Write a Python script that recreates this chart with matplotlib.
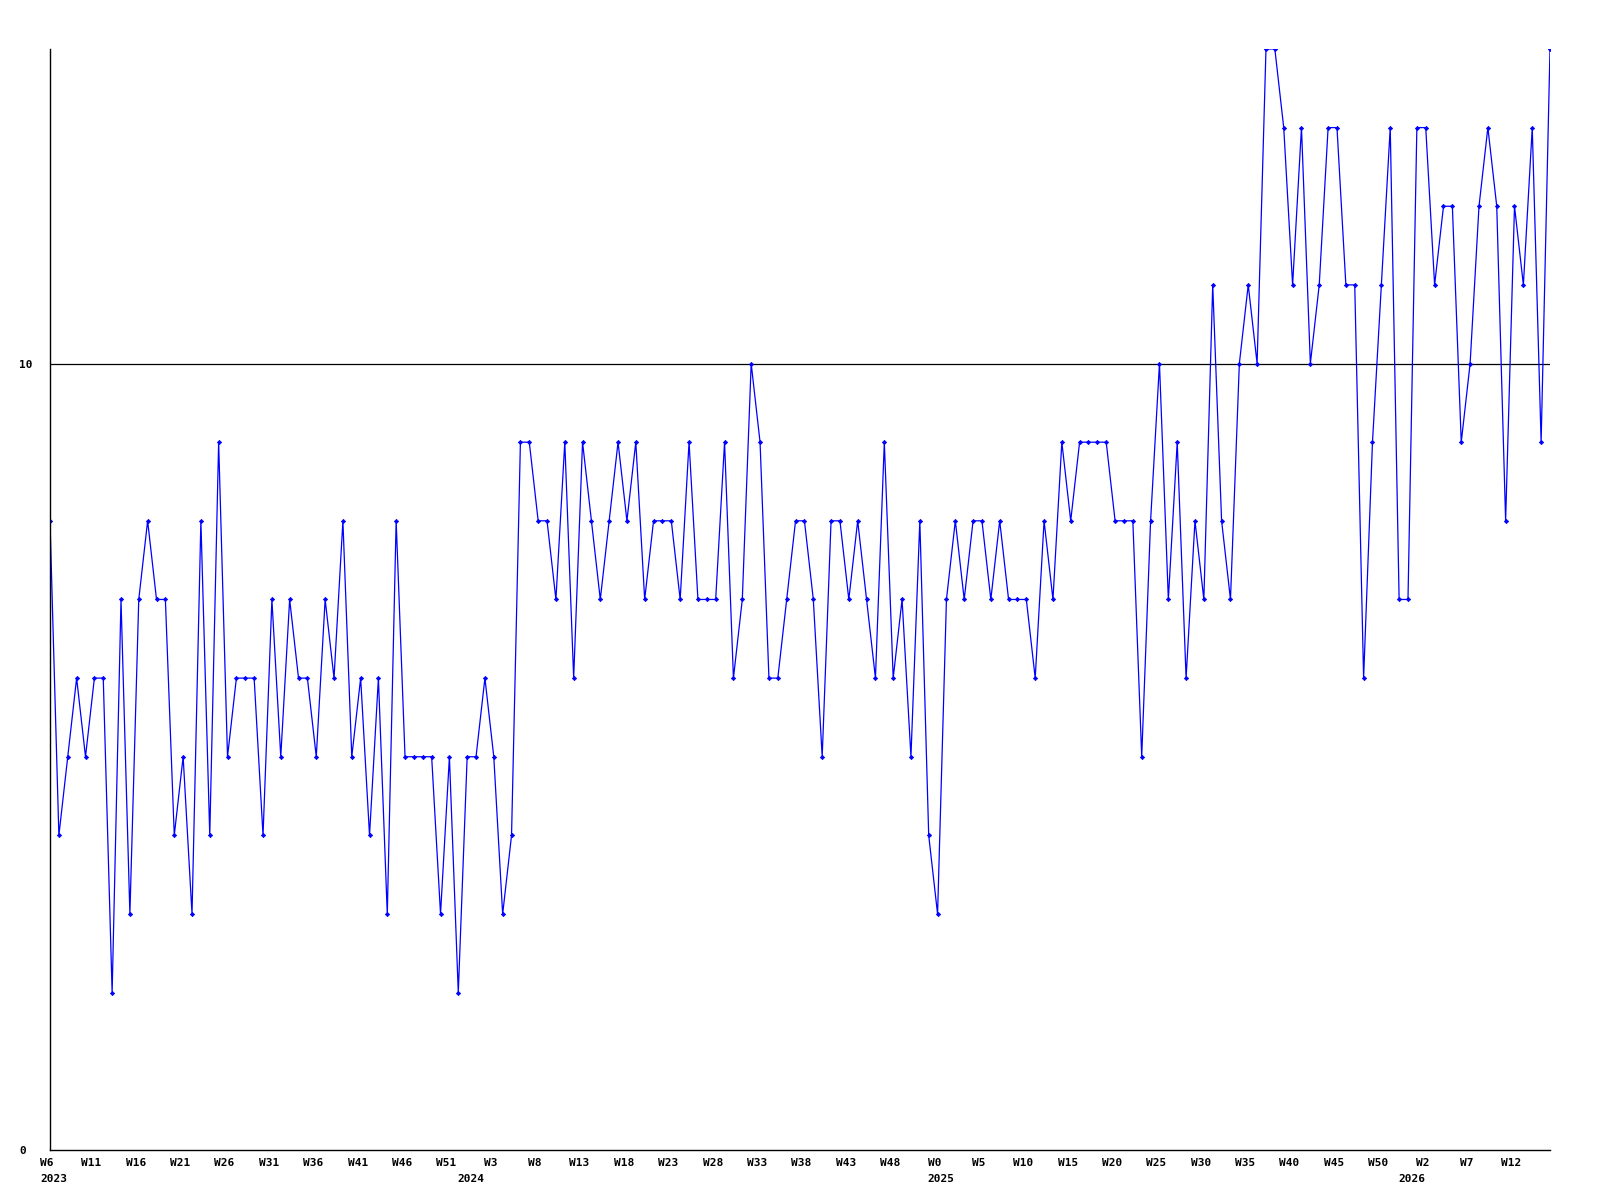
import numpy as np
import matplotlib.pyplot as plt
from matplotlib import transforms

# weekly values, 2023 W6 .. 2026 W16
values = [8, 4, 5, 6, 5, 6, 6, 2, 7, 3, 7, 8, 7, 7, 4, 5, 3, 8, 4, 9,
          5, 6, 6, 6, 4, 7, 5, 7, 6, 6, 5, 7, 6, 8, 5, 6, 4, 6, 3, 8,
          5, 5, 5, 5, 3, 5, 2, 5, 5, 6, 5, 3, 4, 9, 9, 8, 8, 7, 9, 6,
          9, 8, 7, 8, 9, 8, 9, 7, 8, 8, 8, 7, 9, 7, 7, 7, 9, 6, 7, 10,
          9, 6, 6, 7, 8, 8, 7, 5, 8, 8, 7, 8, 7, 6, 9, 6, 7, 5, 8, 4,
          3, 7, 8, 7, 8, 8, 7, 8, 7, 7, 7, 6, 8, 7, 9, 8, 9, 9, 9, 9,
          8, 8, 8, 5, 8, 10, 7, 9, 6, 8, 7, 11, 8, 7, 10, 11, 10, 14, 14, 13,
          11, 13, 10, 11, 13, 13, 11, 11, 6, 9, 11, 13, 7, 7, 13, 13, 11, 12, 12, 9,
          10, 12, 13, 12, 8, 12, 11, 13, 9, 14]

# (year, first week, last week) covered by the series
years = [(2023, 6, 52), (2024, 0, 52), (2025, 0, 52), (2026, 0, 16)]

weeks = []
year_starts = []
for yr, w0, w1 in years:
    year_starts.append((len(weeks), str(yr)))
    weeks += list(range(w0, w1 + 1))

x = np.arange(len(values))

fig = plt.figure(figsize=(16, 12), dpi=100)
ax = fig.add_axes([0.03125, 0.0417, 0.9375, 0.9175])

ax.plot(x, values, color='#0000ff', lw=0.9, marker='D', ms=2.2, mew=0.5)
ax.axhline(10, color='black', lw=0.9, zorder=0)

ax.set_xlim(0, len(values) - 1)
ax.set_ylim(0, 14)

font = dict(family='DejaVu Sans Mono', weight='bold', size=8)

tick_idx = x[::5]
ax.set_xticks(tick_idx)
ax.set_xticklabels(['W%d' % weeks[i] for i in tick_idx], **font)
ax.set_yticks([0, 10])
ax.set_yticklabels(['0', '10'], ha='left', **font)
ax.tick_params(axis='x', length=0, pad=6)
ax.tick_params(axis='y', length=0, pad=22)

# nudge week labels a little to the left, as in the original
shift = transforms.ScaledTranslation(-3 / 100, 0, fig.dpi_scale_trans)
for lbl in ax.get_xticklabels():
    lbl.set_transform(lbl.get_transform() + shift)

# year under first week of each year
trans = transforms.blended_transform_factory(ax.transData, ax.transAxes)
for i, label in year_starts:
    ax.text(i + 0.4, -0.022, label, transform=trans, ha='center', va='top', **font)

for s in ['top', 'right']:
    ax.spines[s].set_visible(False)
ax.spines['left'].set_linewidth(1)
ax.spines['bottom'].set_linewidth(1)

fig.savefig('out.png', dpi=100)
